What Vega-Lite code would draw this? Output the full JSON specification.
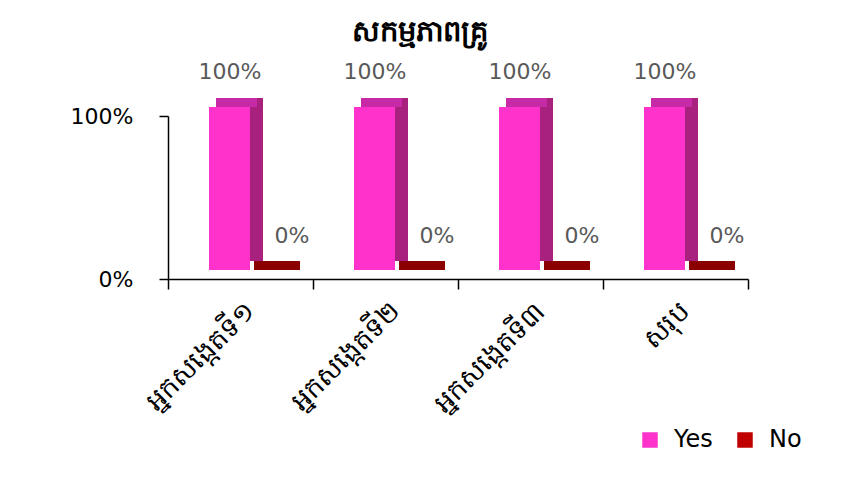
{
  "$schema": "https://vega.github.io/schema/vega-lite/v6.json",
  "width": 580,
  "height": 163,
  "autosize": {"type": "none"},
  "padding": {"left": 168, "top": 116, "right": 115, "bottom": 209},
  "background": "white",
  "config": {
    "view": {"stroke": null},
    "font": "DejaVu Sans"
  },
  "title": {
    "text": "សកម្មភាពគ្រូ",
    "fontSize": 29,
    "fontWeight": "bold",
    "color": "black",
    "anchor": "middle",
    "frame": "group",
    "dx": -38,
    "offset": 14
  },
  "data": {
    "values": [
      {"observer": "អ្នកសង្កេតទី១", "series": "Yes", "value": 1},
      {"observer": "អ្នកសង្កេតទី១", "series": "No", "value": 0},
      {"observer": "អ្នកសង្កេតទី២", "series": "Yes", "value": 1},
      {"observer": "អ្នកសង្កេតទី២", "series": "No", "value": 0},
      {"observer": "អ្នកសង្កេតទី៣", "series": "Yes", "value": 1},
      {"observer": "អ្នកសង្កេតទី៣", "series": "No", "value": 0},
      {"observer": "សរុប", "series": "Yes", "value": 1},
      {"observer": "សរុប", "series": "No", "value": 0}
    ]
  },
  "encoding": {
    "x": {
      "field": "observer",
      "type": "nominal",
      "sort": null,
      "scale": {"paddingInner": 0, "paddingOuter": 0},
      "axis": {
        "title": null,
        "labelAngle": -45,
        "labelFontSize": 27,
        "labelColor": "black",
        "tickBand": "extent",
        "tickSize": 10,
        "tickColor": "black",
        "domainColor": "black",
        "domainWidth": 1.5,
        "tickWidth": 1.5,
        "labelPadding": 9
      }
    },
    "y": {
      "field": "value",
      "type": "quantitative",
      "scale": {"domain": [0, 1]},
      "axis": {
        "title": null,
        "values": [0, 1],
        "format": ".0%",
        "grid": false,
        "labelFontSize": 22,
        "labelColor": "black",
        "labelPadding": 26,
        "tickSize": 9,
        "tickColor": "black",
        "tickWidth": 1.5,
        "domainColor": "black",
        "domainWidth": 1.5
      }
    }
  },
  "layer": [
    {
      "transform": [{"filter": "datum.series === 'Yes'"}],
      "mark": {"type": "bar", "width": 41, "color": "#A8217F", "xOffset": 2, "yOffset": -18, "y2Offset": -9}
    },
    {
      "transform": [{"filter": "datum.series === 'Yes'"}],
      "mark": {"type": "bar", "width": 41, "color": "#C62AA6", "xOffset": -4, "yOffset": -18, "y2Offset": -9},
      "encoding": {"y2": {"field": "value"}}
    },
    {
      "transform": [{"filter": "datum.series === 'No'"}],
      "mark": {"type": "bar", "width": 41, "color": "#8B0000", "xOffset": 39, "yOffset": -18, "y2Offset": -9},
      "encoding": {"y2": {"field": "value"}}
    },
    {
      "transform": [{"filter": "datum.series === 'No'"}],
      "mark": {"type": "bar", "width": 41, "color": "#8B0000", "xOffset": 34, "yOffset": -18, "y2Offset": -9},
      "encoding": {"y2": {"field": "value"}}
    },
    {
      "transform": [{"filter": "datum.series === 'Yes'"}],
      "mark": {"type": "bar", "width": 41, "xOffset": -11, "yOffset": -9, "y2Offset": -9},
      "encoding": {
        "color": {
          "field": "series",
          "type": "nominal",
          "scale": {"domain": ["Yes", "No"], "range": ["#FF33CC", "#C00000"]},
          "legend": {
            "title": null,
            "orient": "none",
            "direction": "horizontal",
            "legendX": 470,
            "legendY": 312,
            "symbolType": "square",
            "symbolSize": 240,
            "symbolStrokeWidth": 0,
            "labelFontSize": 24,
            "labelColor": "black",
            "labelOffset": 12,
            "columnPadding": 20
          }
        }
      }
    },
    {
      "transform": [{"filter": "datum.series === 'No'"}],
      "mark": {"type": "bar", "width": 41, "xOffset": 30, "yOffset": -9, "y2Offset": -9},
      "encoding": {
        "color": {"field": "series", "type": "nominal"}
      }
    },
    {
      "transform": [{"filter": "datum.series === 'Yes'"}],
      "mark": {"type": "text", "xOffset": -10.5, "dy": -44, "fontSize": 22, "color": "#595959"},
      "encoding": {"text": {"field": "value", "type": "quantitative", "format": ".0%"}}
    },
    {
      "transform": [{"filter": "datum.series === 'No'"}],
      "mark": {"type": "text", "xOffset": 51.5, "dy": -43, "fontSize": 22, "color": "#595959"},
      "encoding": {"text": {"field": "value", "type": "quantitative", "format": ".0%"}}
    }
  ]
}
